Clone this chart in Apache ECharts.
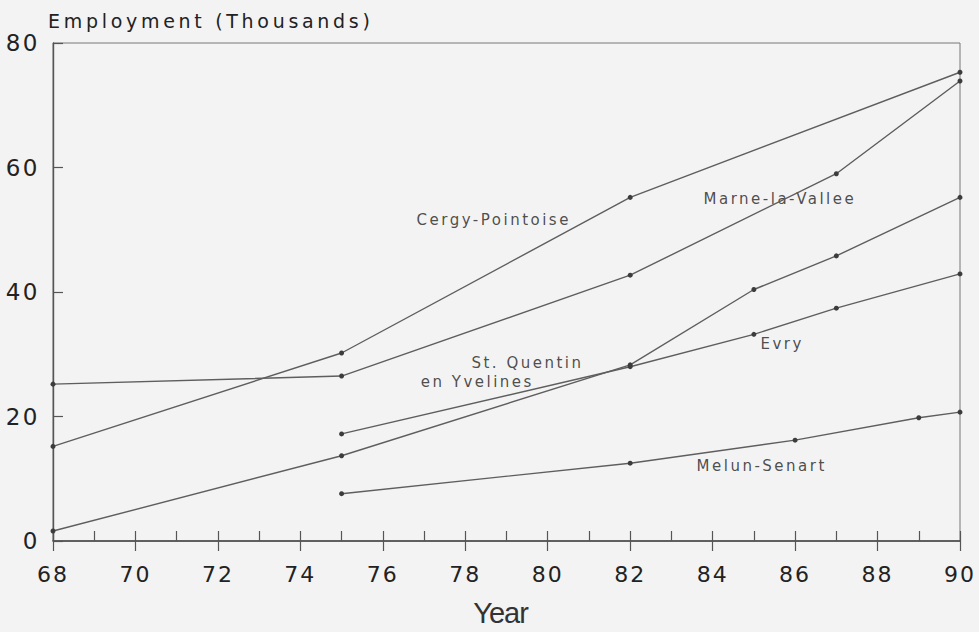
<!DOCTYPE html>
<html>
<head>
<meta charset="utf-8">
<script src="https://cdn.jsdelivr.net/npm/echarts@6/dist/echarts.min.js"></script>
<style>
  html, body { margin: 0; padding: 0; background: #f3f3f3; }
  #chart { width: 979px; height: 632px; }
</style>
</head>
<body>
<div id="chart"></div>
<script>
// Employment in the French new towns, 1968-1990 (thousands)
const cergyYears = [68, 75, 82, 90];
const cergyJobs = [15.2, 30.2, 55.2, 75.3];

const marneYears = [68, 75, 82, 87, 90];
const marneJobs = [25.2, 26.5, 42.7, 59.0, 73.9];

const quentinYears = [68, 75, 82, 85, 87, 90];
const quentinJobs = [1.6, 13.7, 28.3, 40.4, 45.8, 55.2];

const evryYears = [75, 82, 85, 87, 90];
const evryJobs = [17.2, 28.0, 33.2, 37.4, 42.9];

const melunYears = [75, 82, 86, 89, 90];
const melunJobs = [7.6, 12.5, 16.2, 19.8, 20.7];

const yTicks = [0, 20, 40, 60, 80];
const xTicks = [68, 70, 72, 74, 76, 78, 80, 82, 84, 86, 88, 90];

// town names, written next to their lines
const townLabels = ['Cergy-Pointoise', 'Marne-la-Vallee', 'St. Quentin', 'en Yvelines', 'Evry', 'Melun-Senart'];
// where each name starts, in (year, thousands)
const labelAnchors = [[76.82, 51.6], [83.78, 54.9], [78.15, 28.6], [76.92, 25.5], [85.16, 31.7], [83.61, 12.0]];

const towns = [
  ['Cergy-Pointoise', cergyYears, cergyJobs],
  ['Marne-la-Vallee', marneYears, marneJobs],
  ['St. Quentin en Yvelines', quentinYears, quentinJobs],
  ['Evry', evryYears, evryJobs],
  ['Melun-Senart', melunYears, melunJobs]
];

const lineColor = '#5e5e5e';
const dotColor = '#3c3c3c';
const textColor = '#222';

const lineSeries = towns.map(([name, years, jobs]) => ({
  name: name,
  type: 'line',
  xAxisIndex: 0,
  yAxisIndex: 0,
  data: years.map((y, i) => [y, jobs[i]]),
  symbol: 'circle',
  symbolSize: 5,
  showSymbol: true,
  lineStyle: { color: lineColor, width: 1.4 },
  itemStyle: { color: dotColor },
  silent: true
}));

const labelSeries = {
  type: 'scatter',
  xAxisIndex: 0,
  yAxisIndex: 0,
  symbolSize: 0,
  silent: true,
  data: townLabels.map((t, i) => ({ name: t, value: labelAnchors[i] })),
  label: {
    show: true,
    position: 'right',
    distance: 0,
    formatter: '{b}',
    fontFamily: 'DejaVu Sans',
    fontSize: 15,
    color: textColor
  }
};

const chart = echarts.init(document.getElementById('chart'), null, { renderer: 'svg' });

chart.setOption({
  animation: false,
  backgroundColor: '#f3f3f3',
  title: {
    text: 'Employment (Thousands)',
    left: 48,
    top: 11,
    padding: 0,
    textStyle: { fontFamily: 'DejaVu Sans', fontSize: 19, fontWeight: 'normal', color: textColor }
  },
  grid: {
    left: 53, right: 19, top: 43, bottom: 90,
    show: true, borderColor: '#777', borderWidth: 1, backgroundColor: 'transparent'
  },
  xAxis: [
    {
      type: 'value', min: xTicks[0], max: xTicks[xTicks.length - 1], interval: 2,
      position: 'bottom',
      name: 'Year', nameLocation: 'middle', nameGap: 57,
      nameTextStyle: { fontFamily: 'Liberation Sans', fontSize: 29, color: '#333', padding: [0, 12, 0, 0] },
      axisLine: { show: true, lineStyle: { color: '#444', width: 1.6 } },
      axisTick: { show: true, inside: true, length: 10, lineStyle: { color: '#555', width: 1.2 } },
      minorTick: { show: true, splitNumber: 2, length: 10, lineStyle: { color: '#555', width: 1.2 } },
      axisLabel: { fontFamily: 'DejaVu Sans', fontSize: 22, color: textColor, margin: 22 },
      splitLine: { show: false }
    },
    {
      type: 'value', min: xTicks[0], max: xTicks[xTicks.length - 1], interval: 2,
      position: 'bottom',
      axisLine: { show: false },
      axisTick: { show: true, inside: false, length: 10, lineStyle: { color: '#555', width: 1.2 } },
      axisLabel: { show: false },
      splitLine: { show: false }
    }
  ],
  yAxis: {
    type: 'value', min: yTicks[0], max: yTicks[yTicks.length - 1], interval: 20,
    axisLine: { show: true, lineStyle: { color: '#555', width: 1.4 } },
    axisTick: { show: true, inside: true, length: 10, lineStyle: { color: '#555', width: 1.2 } },
    axisLabel: { fontFamily: 'DejaVu Sans', fontSize: 23, color: textColor, margin: 13 },
    splitLine: { show: false }
  },
  series: [...lineSeries, labelSeries]
});

// widen the lettering a little, per text size
const spacingBySize = { 19: '3.7px', 15: '2.5px', 22: '2px', 23: '2.5px', 29: '-1px' };
function applySpacing() {
  document.querySelectorAll('#chart svg text').forEach(t => {
    const fs = Math.round(parseFloat(getComputedStyle(t).fontSize));
    if (spacingBySize[fs]) t.style.letterSpacing = spacingBySize[fs];
  });
}
applySpacing();
chart.on('finished', applySpacing);
</script>
</body>
</html>
